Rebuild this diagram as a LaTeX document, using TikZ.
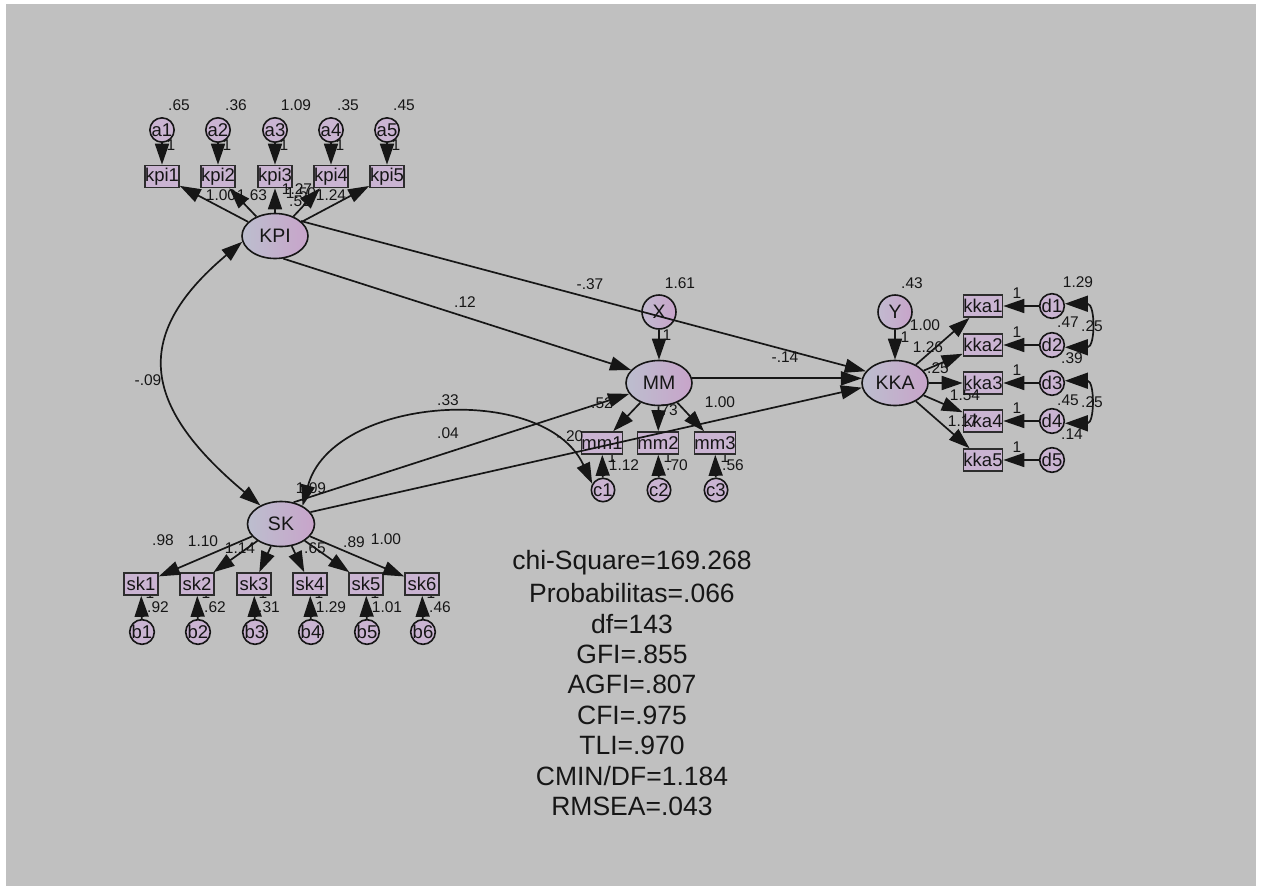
\documentclass[tikz,border=0pt]{standalone}
\usepackage{fontspec}
\setmainfont{Liberation Sans}
\usetikzlibrary{arrows.meta,shapes.geometric}
\definecolor{bg}{RGB}{192,192,192}
\definecolor{fillv}{RGB}{202,180,210}
\definecolor{latL}{RGB}{188,190,206}
\definecolor{latR}{RGB}{200,164,202}
\definecolor{ink}{RGB}{22,22,22}
\definecolor{boxline}{RGB}{45,45,45}
\begin{document}
\begin{tikzpicture}[x=1pt,y=1pt,
  lat/.style={ellipse, draw=ink, line width=1.6pt, minimum width=66pt, minimum height=45pt,
    inner sep=0pt, left color=latL, right color=latR, text=ink, font=\fontsize{19.5}{21}\selectfont},
  latc/.style={circle, draw=ink, line width=1.6pt, minimum size=34pt, inner sep=0pt,
    left color=latL!60!fillv, right color=latR, text=ink, font=\fontsize{19.5}{21}\selectfont},
  obs/.style={rectangle, draw=boxline, line width=1.6pt, fill=fillv, minimum width=34pt,
    minimum height=22pt, inner sep=0pt, text=ink, font=\fontsize{18.5}{19}\selectfont},
  err/.style={circle, draw=ink, line width=1.6pt, fill=fillv, minimum size=22pt, inner sep=0pt,
    text=ink, font=\fontsize{18.5}{19}\selectfont},
  errs/.style={err, minimum size=20pt},
  lbl/.style={inner sep=0pt, text=ink, font=\fontsize{15.5}{17}\selectfont},
  stat/.style={inner sep=0pt, text=ink, font=\fontsize{26.5}{30}\selectfont},
  tip/.style={Triangle[length=21pt,width=14pt]},
  tipb/.style={Triangle[length=23pt,width=16pt]},
  reg/.style={draw=ink, line width=1.7pt, -{Triangle[length=21pt,width=14pt]}},
  cov/.style={draw=ink, line width=1.7pt, {Triangle[length=21pt,width=14pt]}-{Triangle[length=21pt,width=14pt]}},
  covs/.style={draw=ink, line width=1.7pt, {Triangle[length=23pt,width=16pt]}-{Triangle[length=23pt,width=16pt]}}
]
\useasboundingbox (0,0) rectangle (1264,-886);
\fill[white] (0,0) rectangle (1264,-886);
\fill[bg] (6,-4) rectangle (1256,-886);

% ---------- labels drawn first (some lie partly under boxes) ----------
\node[lbl] (u1) at (612,-457) {1};
\node[lbl] (u2) at (668,-457) {1};
\node[lbl] (u3) at (725,-457) {1};
\foreach \x [count=\i] in {141,197,254,310,366,422} {
  \node[lbl] (v\i) at (\x+9,-593) {1};
}

% ---------- nodes ----------
\foreach \x [count=\i] in {162,218,275,331,387} {
  \node[err] (a\i) at (\x,-130) {a\i};
  \node[obs] (kpi\i) at (\x,-176.5) {kpi\i};
}
\node[lat] (KPI) at (275,-236) {KPI};

\node[latc] (X) at (659,-312) {X};
\node[lat] (MM) at (659,-383) {MM};
\foreach \x [count=\i] in {602,658,715} {
  \node[obs, minimum width=33pt] (mm\i) at (\x,-443) {mm\i};
  \node[errs] (c\i) at (\x+1,-490) {c\i};
}

\node[latc] (Y) at (895,-312) {Y};
\node[lat] (KKA) at (895,-383) {KKA};
\foreach \y [count=\i] in {306,345,383,421,460} {
  \node[obs, minimum width=35pt] (kka\i) at (983,-\y) {kka\i};
  \node[err] (d\i) at (1052,-\y) {d\i};
}

\node[lat, minimum width=67pt] (SK) at (281,-524) {SK};
\foreach \x [count=\i] in {141,197,254,310,366,422} {
  \node[obs] (sk\i) at (\x,-584) {sk\i};
  \node[err] (b\i) at (\x+1,-632) {b\i};
}

% ---------- connectors ----------
\foreach \i in {1,...,5} {
  \draw[reg] (a\i) -- (kpi\i);
  \draw[reg] (KPI) -- (kpi\i);
  \draw[reg] (d\i) -- (kka\i);
  \draw[reg] (KKA) -- (kka\i);
}
\foreach \i in {1,2,3} {
  \draw[reg] (c\i) -- (mm\i);
  \draw[reg] (MM) -- (mm\i);
}
\foreach \i in {1,...,6} {
  \draw[reg] (b\i) -- (sk\i);
  \draw[reg] (SK) -- (sk\i);
}
\draw[reg] (X) -- (MM);
\draw[reg] (Y) -- (KKA);
\draw[reg] (KPI.30) -- (KKA.158);
\draw[reg] (KPI.-70) -- (MM.155);
\draw[reg] (MM.8) -- (KKA.172);
\draw[reg] (SK.60) -- (MM.200);
\draw[reg] (SK.22) -- (KKA.188);
\draw[cov] (KPI.190) to[out=220,in=140,looseness=1.45] (SK.138);
\draw[cov] (SK.40) to[out=75,in=115,looseness=1] (c1.150);
\draw[covs] (d1.10) to[out=0,in=0,looseness=1.8] (d2.-10);
\draw[covs] (d3.10) to[out=0,in=0,looseness=1.8] (d4.-10);

% ---------- estimates ----------
\node[lbl] (e1) at (179,-105) {.65};
\node[lbl] (e2) at (236,-105) {.36};
\node[lbl] (e3) at (296,-105) {1.09};
\node[lbl] (e4) at (348,-105) {.35};
\node[lbl] (e5) at (404,-105) {.45};
\foreach \x [count=\i] in {162,218,275,331,387} {
  \node[lbl] (o\i) at (\x+9,-145) {1};
}
\node[lbl] (k1) at (221,-195) {1.00};
\node[lbl] (k2) at (252,-195) {1.63};
\node[lbl] (k3) at (297,-189) {1.27};
\node[lbl] (k4) at (301,-193) {1.50};
\node[lbl] (k5) at (300,-201) {.52};
\node[lbl] (k6) at (331,-195) {1.24};

\node[lbl] (s1) at (590,-284) {-.37};
\node[lbl] (s2) at (465,-302) {.12};
\node[lbl] (s3) at (785,-357) {-.14};
\node[lbl] (s4) at (148,-380) {-.09};
\node[lbl] (s5) at (448,-400) {.33};
\node[lbl] (s6) at (448,-433) {.04};
\node[lbl] (s7) at (570,-436) {-.20};
\node[lbl] (s8) at (311,-488) {1.09};

\node[lbl] (x1) at (680,-283) {1.61};
\node[lbl] (x2) at (667,-335) {1};
\node[lbl] (m1) at (602,-403) {.52};
\node[lbl] (m2) at (667,-410) {.73};
\node[lbl] (m3) at (720,-402) {1.00};
\node[lbl] (m4) at (624,-465) {1.12};
\node[lbl] (m5) at (677,-465) {.70};
\node[lbl] (m6) at (733,-465) {.56};

\node[lbl] (y1) at (912,-283) {.43};
\node[lbl] (y2) at (905,-337) {1};
\node[lbl] (g1) at (925,-325) {1.00};
\node[lbl] (g2) at (928,-347) {1.26};
\node[lbl] (g3) at (938,-368) {.25};
\node[lbl] (g4) at (965,-395) {1.54};
\node[lbl] (g5) at (963,-421) {1.17};
\foreach \y [count=\i] in {306,345,383,421,460} {
  \node[lbl] (h\i) at (1017,-\y+13) {1};
}
\node[lbl] (q1) at (1078,-282) {1.29};
\node[lbl] (q2) at (1068,-322) {.47};
\node[lbl] (q3) at (1092,-326) {.25};
\node[lbl] (q4) at (1072,-358) {.39};
\node[lbl] (q5) at (1068,-400) {.45};
\node[lbl] (q6) at (1092,-402) {.25};
\node[lbl] (q7) at (1072,-434) {.14};

\node[lbl] (p1) at (163,-540) {.98};
\node[lbl] (p2) at (203,-541) {1.10};
\node[lbl] (p3) at (240,-548) {1.14};
\node[lbl] (p4) at (315,-548) {.65};
\node[lbl] (p5) at (354,-542) {.89};
\node[lbl] (p6) at (386,-539) {1.00};
\node[lbl] (r1) at (158,-607) {.92};
\node[lbl] (r2) at (215,-607) {.62};
\node[lbl] (r3) at (269,-607) {.31};
\node[lbl] (r4) at (331,-607) {1.29};
\node[lbl] (r5) at (387,-607) {1.01};
\node[lbl] (r6) at (440,-607) {.46};

% ---------- fit statistics ----------
\foreach \t [count=\i] in {chi-Square=169.268,Probabilitas=.066,df=143,GFI=.855,AGFI=.807,CFI=.975,TLI=.970,CMIN/DF=1.184,RMSEA=.043} {
  \node[stat] (f\i) at (632,-563-30.4*\i+30.4) {\t};
}
\end{tikzpicture}
\end{document}
